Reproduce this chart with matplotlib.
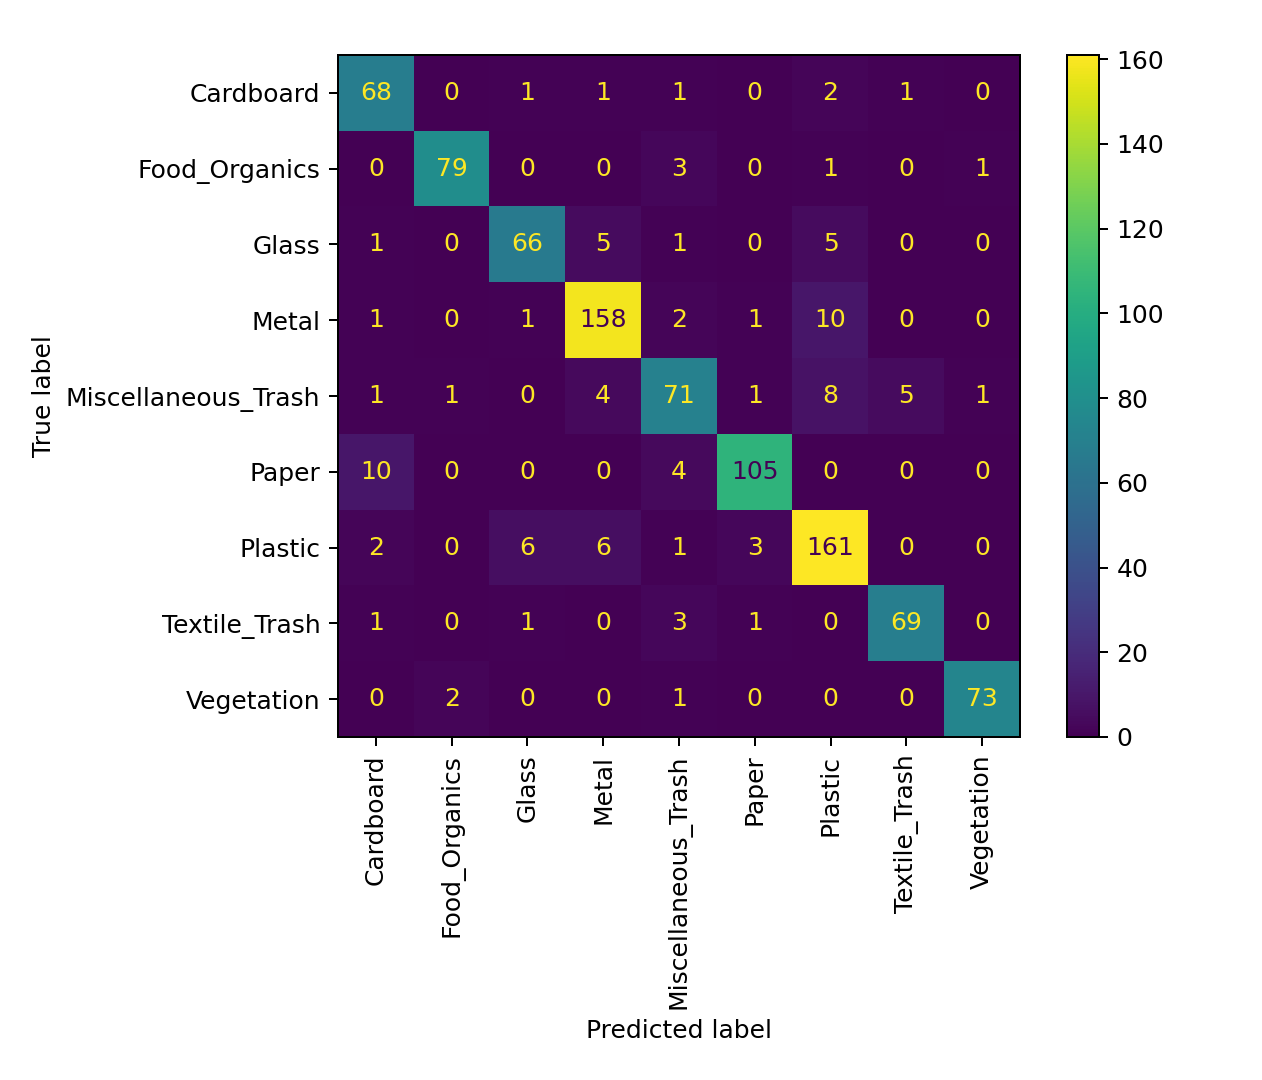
import matplotlib
matplotlib.use("Agg")
import matplotlib.pyplot as plt
import numpy as np

# ---------------------------------------------------------------------------
# Data — confusion matrix (rows = true, cols = predicted)
# ---------------------------------------------------------------------------
classes = ["Cardboard", "Food_Organics", "Glass", "Metal", "Miscellaneous_Trash",
           "Paper", "Plastic", "Textile_Trash", "Vegetation"]

cm = np.array([
    [68,  0,  1,   1,  1,   0,   2,  1,  0],
    [0,  79,  0,   0,  3,   0,   1,  0,  1],
    [1,   0, 66,   5,  1,   0,   5,  0,  0],
    [1,   0,  1, 158,  2,   1,  10,  0,  0],
    [1,   1,  0,   4, 71,   1,   8,  5,  1],
    [10,  0,  0,   0,  4, 105,   0,  0,  0],
    [2,   0,  6,   6,  1,   3, 161,  0,  0],
    [1,   0,  1,   0,  3,   1,   0, 69,  0],
    [0,   2,  0,   0,  1,   0,   0,  0, 73],
])

cbar_ticks = [0, 20, 40, 60, 80, 100, 120, 140, 160]

# ---------------------------------------------------------------------------
# Figure
# ---------------------------------------------------------------------------
DPI = 180
fig = plt.figure(figsize=(1262 / DPI, 1080 / DPI), dpi=DPI)
ax = fig.add_axes([338 / 1262, 1 - 737 / 1080, 682 / 1262, 682 / 1080])
cax = fig.add_axes([1067 / 1262, 1 - 737 / 1080, 32 / 1262, 682 / 1080])

cmap = plt.get_cmap("viridis")
im = ax.imshow(cm, cmap=cmap, interpolation="nearest")

# text colour the sklearn way: dark on bright cells, yellow on dark ones
thresh = (cm.max() + cm.min()) / 2.0
lo, hi = cmap(0.0), cmap(1.0)
n = len(classes)
for i in range(n):
    for j in range(n):
        ax.text(j, i, f"{cm[i, j]}", ha="center", va="center",
                fontsize=10, color=lo if cm[i, j] > thresh else hi)

ax.set_xticks(range(n))
ax.set_yticks(range(n))
ax.set_xticklabels(classes, rotation=90, fontsize=10)
ax.set_yticklabels(classes, fontsize=10)
ax.set_xlabel("Predicted label", fontsize=10)
ax.set_ylabel("True label", fontsize=10)

cb = fig.colorbar(im, cax=cax)
cb.set_ticks(cbar_ticks)
cb.ax.tick_params(labelsize=10)

fig.savefig("out.png", dpi=DPI)
plt.close(fig)
